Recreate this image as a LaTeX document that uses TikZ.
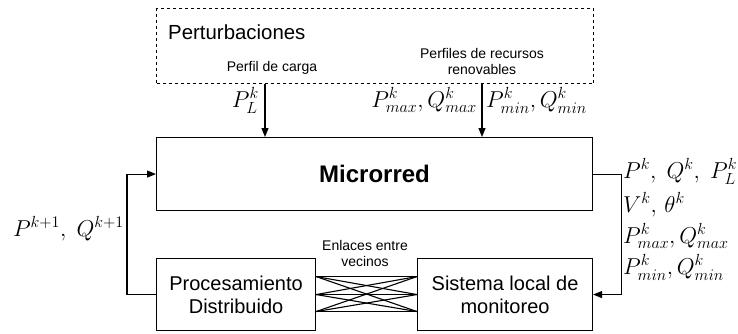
\RequirePackage{fix-cm}
\documentclass[tikz,border=0pt]{standalone}
\usepackage{fontspec}
\setmainfont{Liberation Sans}
\usepackage{amsmath}
\usetikzlibrary{arrows.meta, positioning}

\begin{document}
\begin{tikzpicture}[x=1pt, y=-1pt,
    bloque/.style={draw, line width=1.1pt, inner sep=0pt, anchor=north west,
        align=center, font=\fontsize{20}{23}\selectfont},
    perturb/.style={draw, dashed, line width=1.1pt, inner sep=0pt, anchor=north west},
    rotulo/.style={font=\fontsize{14}{16}\selectfont, align=center, inner sep=1pt},
    senal/.style={font=\fontsize{23}{25}\selectfont, inner sep=0pt},
    flecha/.style={line width=1.1pt, -{Triangle[length=9pt,width=7pt]}},
    enlace/.style={line width=1.1pt}]
    \useasboundingbox (0,0) rectangle (738,333);

    % bloques
    \node[perturb, minimum width=437pt, minimum height=75pt] (pert) at (156,8) {};
    \node[anchor=west, inner sep=0pt, font=\fontsize{20.4}{23}\selectfont] (titulo) at (168,32) {Perturbaciones};
    \node[bloque, minimum width=436pt, minimum height=73pt,
        font=\fontsize{24}{26}\selectfont\bfseries] (micro) at (156,137) {Microrred};
    \node[bloque, minimum width=159pt, minimum height=72pt] (proc) at (156,258) {Procesamiento\\Distribuido};
    \node[bloque, minimum width=175pt, minimum height=72pt] (sis) at (417,258) {Sistema local de\\monitoreo};

    % entradas de perturbaciones
    \node[rotulo] (carga) at (272,68) {Perfil de carga};
    \node[rotulo] (renov) at (482,61) {Perfiles de recursos\\renovables};
    \coordinate (xc) at (265,0);
    \coordinate (xr) at (482,0);
    \draw[flecha] (xc |- pert.south) -- (xc |- micro.north);
    \draw[flecha] (xr |- pert.south) -- (xr |- micro.north);
    \node[senal, anchor=base east] (pl) at (259,107) {$P_L^k$};
    \node[senal, anchor=base east] (pmax) at (477,107) {$P_{max}^k,Q_{max}^k$};
    \node[senal, anchor=base west] (pmin) at (486,107) {$P_{min}^k,Q_{min}^k$};

    % realimentacion
    \draw[flecha] (proc.west) -- ++(-29,0) coordinate (izq) |- (micro.west);
    \node[senal, anchor=base east] (pk1) at (124,236) {$P^{k+1},\;Q^{k+1}$};
    \draw[flecha] (micro.east) -- ++(28,0) coordinate (der) |- (sis.east);
    \node[senal, anchor=base west] (med1) at (623,178) {$P^k,\;Q^k,\;P_L^k$};
    \node[senal, anchor=base west] (med2) at (623,212) {$V^k,\,\theta^k$};
    \node[senal, anchor=base west] (med3) at (623,243) {$P_{max}^k,Q_{max}^k$};
    \node[senal, anchor=base west] (med4) at (623,274) {$P_{min}^k,Q_{min}^k$};

    % enlaces entre vecinos
    \coordinate (l1) at ([yshift=18pt]proc.east);
    \coordinate (l2) at (proc.east);
    \coordinate (l3) at ([yshift=-17pt]proc.east);
    \coordinate (r1) at ([yshift=18pt]sis.west);
    \coordinate (r2) at (sis.west);
    \coordinate (r3) at ([yshift=-17pt]sis.west);
    \foreach \a in {1,2,3}
        \foreach \b in {1,2,3}
            \draw[enlace] (l\a) -- (r\b);
    \node[rotulo, anchor=south] (vec) at (365,268) {Enlaces entre\\vecinos};

\end{tikzpicture}
\end{document}
